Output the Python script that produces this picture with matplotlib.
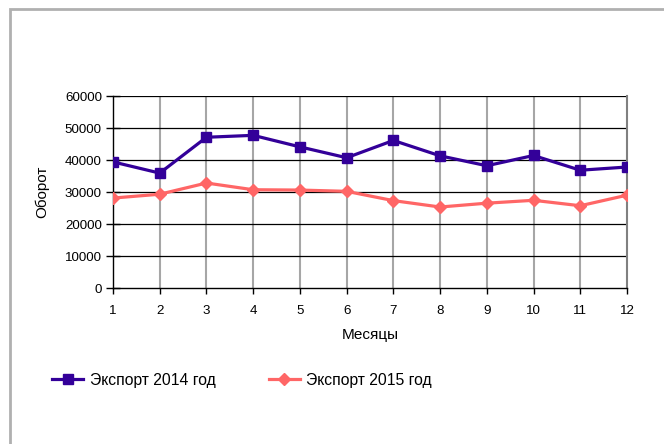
import matplotlib.pyplot as plt
from matplotlib.patches import Rectangle

plt.rcParams['font.family'] = ['Liberation Sans', 'DejaVu Sans']

# Data
months = [1, 2, 3, 4, 5, 6, 7, 8, 9, 10, 11, 12]
export_2014 = [39500, 36000, 47200, 47800, 44200, 40800, 46200, 41400, 38300, 41500, 36900, 37900]
export_2015 = [28200, 29400, 32900, 30800, 30700, 30300, 27400, 25400, 26600, 27500, 25800, 29100]
yticks = [0, 10000, 20000, 30000, 40000, 50000, 60000]

W, H = 664, 444
fig = plt.figure(figsize=(W / 100, H / 100), dpi=100)

# outer chart frame
fig.patches.append(Rectangle((9.5 / W, -0.05), 1.1, 1 - 9.5 / H + 0.05, transform=fig.transFigure,
                             fill=False, edgecolor='#b0b0b0', linewidth=2.0))

ax = fig.add_axes([113 / W, 1 - 288.3 / H, (627 - 113) / W, (288.3 - 96.3) / H])

ax.plot(months, export_2014, color='#330099', lw=2.3, marker='s', ms=7, label='Экспорт 2014 год', zorder=4)
ax.plot(months, export_2015, color='#ff6666', lw=2.3, marker='D', ms=6.3, label='Экспорт 2015 год', zorder=3)

ax.set_xlim(1, 12)
ax.set_ylim(0, 60000)
ax.set_xticks(months)
ax.set_yticks(yticks)

for y in yticks[1:]:
    ax.axhline(y, color='black', lw=0.9, zorder=1)
for x in months[1:-1]:
    ax.axvline(x, color='#a6a6a6', lw=1.5, zorder=0)

ax.spines['top'].set_visible(False)
ax.spines['right'].set_color('#808080')
ax.spines['right'].set_linewidth(1.5)
ax.spines['left'].set_linewidth(1.0)
ax.spines['bottom'].set_linewidth(1.0)

ax.tick_params(axis='y', direction='inout', length=10, width=1, labelsize=9.6, pad=3)
ax.tick_params(axis='x', direction='out', length=4.3, width=1, labelsize=9.6, pad=7.5)

ax.set_xlabel('Месяцы', fontsize=11, labelpad=8)
ax.set_ylabel('Оборот', fontsize=11, labelpad=11)

ax.legend(loc='center left', bbox_to_anchor=(52 / W, 1 - 380 / H), bbox_transform=fig.transFigure,
          ncol=2, frameon=False, fontsize=11.3, borderpad=0, borderaxespad=0,
          handlelength=2.0, columnspacing=3.4, handletextpad=0.4)

fig.savefig('out.png', dpi=100)
